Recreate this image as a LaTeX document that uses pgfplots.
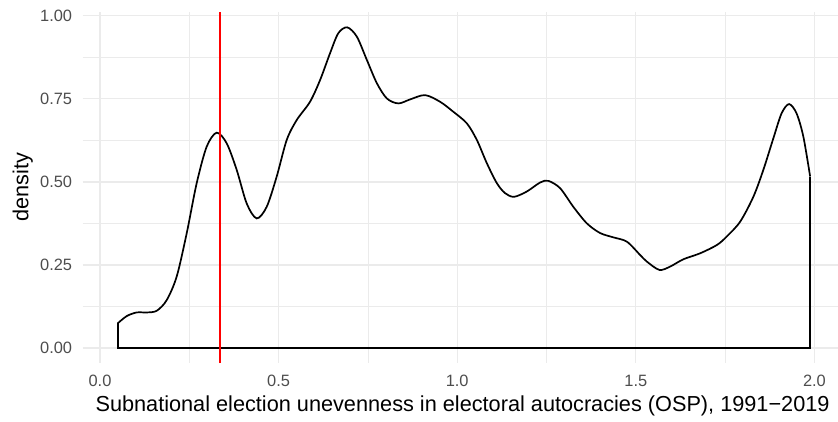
\documentclass[border=0pt]{standalone}
\usepackage{fontspec}
\setmainfont{Liberation Sans}
\usepackage{pgfplots}
\pgfplotsset{compat=1.18}
\definecolor{gridc}{HTML}{EBEBEB}
\definecolor{tickc}{HTML}{4D4D4D}
\begin{document}
\begin{tikzpicture}
\useasboundingbox (-82.7pt,-58pt) rectangle (755.3pt,363pt);
\begin{axis}[
  at={(0,0)}, anchor=south west,
  scale only axis, width=755.3pt, height=351.3pt,
  xmin=-0.0484, xmax=2.066, ymin=-0.0451, ymax=1.012,
  xtick={0,0.5,1,1.5,2}, ytick={0,0.25,0.5,0.75,1},
  minor xtick={0.25,0.75,1.25,1.75}, minor ytick={0.125,0.375,0.625,0.875},
  grid=both,
  major grid style={gridc, line width=1.3pt},
  minor grid style={gridc, line width=0.65pt},
  axis line style={draw=none},
  major tick length=0pt, minor tick length=0pt,
  /pgf/number format/assume math mode=true,
  xticklabel style={/pgf/number format/fixed, /pgf/number format/fixed zerofill, /pgf/number format/precision=1,
     anchor=base, yshift=-23.7pt, text=tickc, font=\fontsize{16.4}{19}\selectfont},
  yticklabel style={/pgf/number format/fixed, /pgf/number format/fixed zerofill, /pgf/number format/precision=2,
     anchor=east, inner sep=0pt, xshift=-10.4pt, text=tickc, font=\fontsize{16.4}{19}\selectfont},
  scaled ticks=false,
  xlabel={Subnational election unevenness in electoral autocracies (OSP), 1991−2019},
  ylabel={density},
  xlabel style={at={(axis cs:1.015,-0.0451)}, anchor=base, yshift=-48.7pt, inner sep=0pt, font=\fontsize{21.7}{25}\selectfont},
  ylabel style={at={(axis description cs:0,0.5)}, anchor=center, yshift=60pt, inner sep=0pt, font=\fontsize{21.7}{25}\selectfont},
  clip=false,
]
\addplot[black, line width=1.7pt, smooth, tension=0.5] coordinates {
(0.0495,0.074)(0.0747,0.096)(0.1027,0.107)(0.1307,0.107)(0.1587,0.112)(0.1867,0.144)
(0.2147,0.215)(0.2427,0.345)(0.2707,0.496)(0.2987,0.606)(0.3267,0.648)(0.3547,0.616)
(0.3827,0.536)(0.4107,0.435)(0.4387,0.390)(0.4667,0.425)(0.4947,0.516)(0.5227,0.626)
(0.5507,0.686)(0.588,0.741)(0.616,0.806)(0.644,0.887)(0.667,0.947)(0.692,0.965)
(0.719,0.937)(0.747,0.867)(0.775,0.797)(0.803,0.751)(0.835,0.736)(0.868,0.748)
(0.910,0.761)(0.952,0.741)(0.989,0.711)(1.027,0.676)(1.055,0.626)(1.083,0.556)
(1.111,0.496)(1.134,0.466)(1.159,0.455)(1.195,0.471)(1.232,0.498)(1.255,0.503)
(1.288,0.481)(1.325,0.425)(1.363,0.375)(1.400,0.346)(1.437,0.333)(1.475,0.320)
(1.512,0.280)(1.531,0.260)(1.566,0.235)(1.596,0.245)(1.633,0.267)(1.680,0.285)
(1.727,0.310)(1.754,0.335)(1.792,0.380)(1.829,0.455)(1.857,0.536)(1.885,0.631)
(1.908,0.706)(1.929,0.734)(1.950,0.706)(1.969,0.636)(1.988,0.516)
};
\addplot[black, line width=1.7pt, sharp plot] coordinates {
(0.0495,0.074)(0.0495,0)(1.988,0)(1.988,0.516)
};
\addplot[red, line width=1.7pt] coordinates {(0.336,-0.0451)(0.336,1.012)};
\end{axis}
\end{tikzpicture}
\end{document}
